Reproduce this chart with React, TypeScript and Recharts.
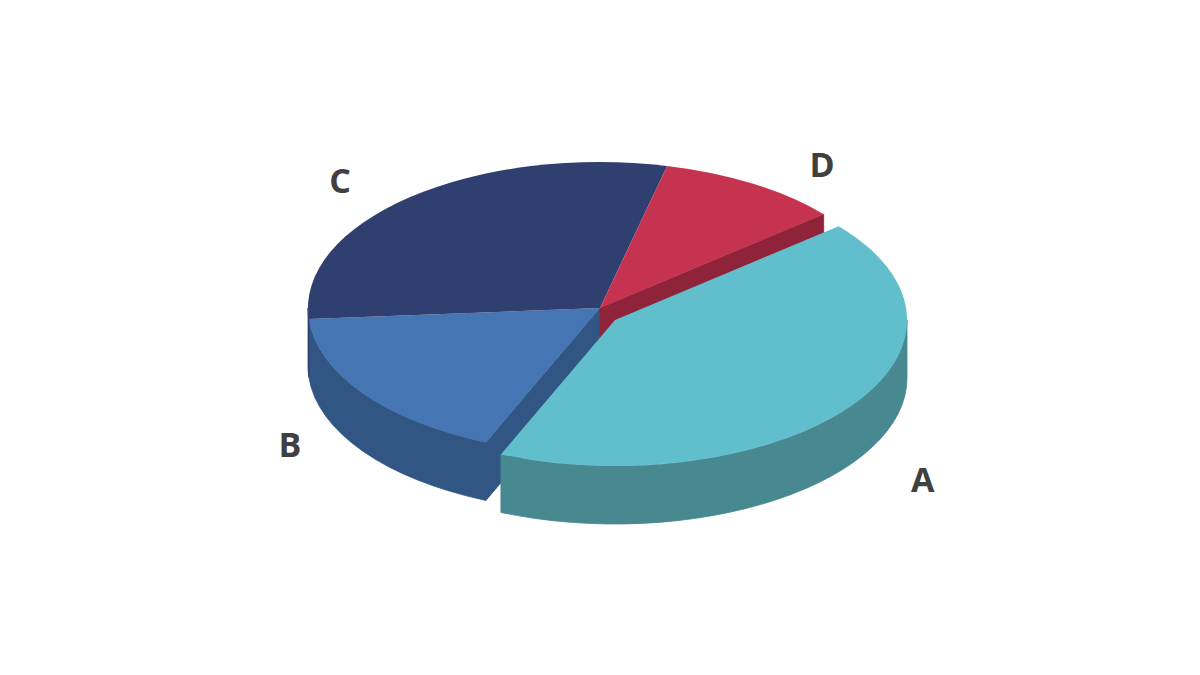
import React from 'react';
import { PieChart, Pie } from 'recharts';

// drawn back to front, so the pulled-out A has to come last
const names = ['B', 'C', 'D', 'A'];
const values = [17.4, 29.9, 10.2, 42.5];
const topColors = ['#4575B2', '#2E3F70', '#C63350', '#61BFCD'];
const wallColors = ['#315683', '#2E3F70', '#8F2339', '#488890'];

const data = names.map((name, i) => ({
  name,
  value: values[i],
  top: topColors[i],
  wall: wallColors[i],
}));

const SQUASH = 0.5;
const DEPTH = 58;
const EXPLODE = { x: 15, y: 12 };
const LOWER_BANDS = [[-180, 0], [-540, -360]];
const LABEL_NUDGE: Record<string, [number, number]> = {
  A: [73, 72],
  B: [-73, 51],
  C: [-70, -17],
  D: [69, -20],
};

const rad = (deg: number) => (deg * Math.PI) / 180;

function rim(cx: number, cy: number, r: number, deg: number) {
  return [cx + r * Math.cos(rad(deg)), cy - r * SQUASH * Math.sin(rad(deg))];
}

function SliceShape(props: any) {
  const { outerRadius: r, startAngle, endAngle, name, payload } = props;
  const label = name ?? payload?.name;
  const top = props.top ?? payload?.top;
  const wall = props.wall ?? payload?.wall;
  const cx = props.cx + (label === 'A' ? EXPLODE.x : 0);
  const cy = props.cy + (label === 'A' ? EXPLODE.y : 0);
  const ry = r * SQUASH;

  const [sx, sy] = rim(cx, cy, r, startAngle);
  const [ex, ey] = rim(cx, cy, r, endAngle);
  const large = Math.abs(startAngle - endAngle) > 180 ? 1 : 0;

  const walls = LOWER_BANDS.map(([lo, hi]) => {
    const from = Math.min(startAngle, hi);
    const to = Math.max(endAngle, lo);
    if (from <= to) return null;
    const [ax, ay] = rim(cx, cy, r, from);
    const [bx, by] = rim(cx, cy, r, to);
    return (
      <path
        key={lo}
        fill={wall}
        stroke={wall}
        strokeWidth={0.8}
        d={`M${ax},${ay} A${r},${ry} 0 0 1 ${bx},${by} L${bx},${by + DEPTH} A${r},${ry} 0 0 0 ${ax},${ay + DEPTH} Z`}
      />
    );
  });

  // the cut faces left open by pulling A out
  const cutFace =
    label === 'B'
      ? `M${cx},${cy} L${sx},${sy} L${sx},${sy + DEPTH} L${cx},${cy + DEPTH} Z`
      : label === 'D'
        ? `M${cx},${cy} L${ex},${ey} L${ex},${ey + DEPTH} L${cx},${cy + DEPTH} Z`
        : null;

  return (
    <g>
      {walls}
      {cutFace && <path d={cutFace} fill={wall} stroke={wall} strokeWidth={0.8} />}
      <path
        fill={top}
        d={`M${cx},${cy} L${sx},${sy} A${r},${ry} 0 ${large} 1 ${ex},${ey} Z`}
      />
    </g>
  );
}

function SliceLabel(props: any) {
  const { cx, cy, outerRadius, midAngle, name } = props;
  const shift = name === 'A' ? EXPLODE : { x: 0, y: 0 };
  const [x, y] = rim(cx + shift.x, cy + shift.y, outerRadius, midAngle);
  const [dx, dy] = LABEL_NUDGE[name];
  return (
    <text
      x={x + dx}
      y={y + dy}
      textAnchor="middle"
      dominantBaseline="central"
      fontFamily="'Open Sans', sans-serif"
      fontWeight={700}
      fontSize={34}
      fill="#404040"
    >
      {name}
    </text>
  );
}

export default function App() {
  return (
    <div style={{ position: 'absolute', left: 0, top: 0, width: 1200, height: 675, background: '#fff' }}>
      <PieChart width={1200} height={675} margin={{ top: 0, right: 0, bottom: 0, left: 0 }}>
        <Pie
          data={data}
          dataKey="value"
          nameKey="name"
          cx={600}
          cy={308}
          innerRadius={0}
          outerRadius={292}
          startAngle={-113}
          endAngle={-473}
          stroke="none"
          shape={SliceShape}
          label={SliceLabel}
          labelLine={false}
          isAnimationActive={false}
        />
      </PieChart>
    </div>
  );
}
